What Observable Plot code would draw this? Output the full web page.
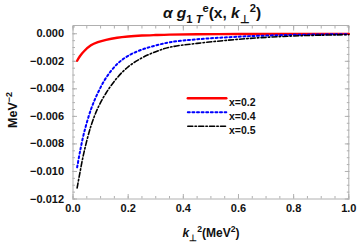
<!DOCTYPE html>
<html><head><meta charset="utf-8">
<script src="https://cdn.jsdelivr.net/npm/d3@7"></script>
<script src="https://cdn.jsdelivr.net/npm/@observablehq/plot@0.6"></script>
<style>body{margin:0;background:#fff} #chart{width:359px;height:243px}</style>
</head><body><div id="chart"></div>
<script>
// k_perp^2 sample positions (MeV^2)
const k2 = [0.015, 0.025, 0.04, 0.065, 0.09, 0.12, 0.16, 0.2, 0.25, 0.3, 0.35, 0.45, 0.6, 0.7, 0.8, 0.9, 1.0];
// alpha g1T^e (MeV^-2) for each x
const gX02 = [-0.00196, -0.00163, -0.00127, -0.00084, -0.00061, -0.00044, -0.00029, -0.0002, -0.00013, -0.00009, -0.00006, -0.00004, -0.00002, -0.00002, -0.00001, -0.00001, -0.00001];
const gX04 = [-0.0097, -0.0086, -0.0072, -0.0055, -0.0043, -0.0032, -0.0022, -0.0016, -0.00115, -0.00085, -0.00062, -0.0004, -0.00021, -0.00013, -0.00008, -0.00005, -0.00003];
const gX05 = [-0.0112, -0.0101, -0.0086, -0.0067, -0.0054, -0.0043, -0.0032, -0.0024, -0.00175, -0.0013, -0.00098, -0.0007, -0.0004, -0.00026, -0.00016, -0.0001, -0.00007];
const seriesNames = ["x=0.2", "x=0.4", "x=0.5"];
const xTicks = [0, 0.2, 0.4, 0.6, 0.8, 1.0];
const yTicks = [0, -0.002, -0.004, -0.006, -0.008, -0.010, -0.012];

const allSeries = [gX02, gX04, gX05];
const rows = [];
allSeries.forEach((vals, i) => vals.forEach((v, j) => rows.push({k: k2[j], g: v, s: seriesNames[i]})));

const colors = ["#ff0000", "#0000ff", "#000000"];
const dashes = [null, "2,2.6", "5,2.2,1.5,2.2"];
const widths = [2.4, 2, 1.6];

const xMinor = d3.range(0, 1.0001, 0.05).map(v => +v.toFixed(2));
const yMinor = d3.range(-0.012, 0.00051, 0.0005).map(v => +v.toFixed(4));

const font = "'Liberation Sans', Arial, sans-serif";
const tickColor = "#b0b0b0";
const seg = {draw(ctx, l) { ctx.moveTo(0, 0); ctx.lineTo(l, 0); }};

const marks = [
  Plot.frame({stroke: tickColor, strokeWidth: 1}),
  Plot.axisX(xMinor, {anchor: "bottom", tickSize: -2.5, text: null, stroke: tickColor, label: null}),
  Plot.axisX(xMinor, {anchor: "top", tickSize: -2.5, text: null, stroke: tickColor, label: null}),
  Plot.axisX(xTicks, {anchor: "bottom", tickSize: -4.5, text: null, stroke: tickColor, label: null}),
  Plot.axisX(xTicks, {anchor: "top", tickSize: -4.5, text: null, stroke: tickColor, label: null}),
  Plot.axisY(yMinor, {anchor: "left", tickSize: -2.5, text: null, stroke: tickColor, label: null}),
  Plot.axisY(yMinor, {anchor: "right", tickSize: -2.5, text: null, stroke: tickColor, label: null}),
  Plot.axisY(yTicks, {anchor: "left", tickSize: -4.5, text: null, stroke: tickColor, label: null}),
  Plot.axisY(yTicks, {anchor: "right", tickSize: -4.5, text: null, stroke: tickColor, label: null}),
  Plot.axisX(xTicks, {anchor: "bottom", tickSize: 0, tickPadding: 5, tickFormat: d3.format(".1f"), label: null, fill: "#111"}),
  Plot.axisY(yTicks, {anchor: "left", tickSize: 0, tickPadding: 9, tickFormat: d3.format(".3f"), label: null, fill: "#111"})
];
seriesNames.forEach((name, i) => {
  marks.push(Plot.line(rows.filter(r => r.s === name), {x: "k", y: "g", stroke: colors[i], strokeWidth: widths[i], strokeDasharray: dashes[i], curve: "catmull-rom"}));
});
// legend
seriesNames.forEach((name, i) => {
  marks.push(Plot.vector([name], {frameAnchor: "top-left", dx: 114.8, dy: 72.7 + 14 * i, length: 38.5, shape: seg, anchor: "start", stroke: colors[i], strokeWidth: widths[i], strokeDasharray: dashes[i]}));
  marks.push(Plot.text([name], {text: d => d, frameAnchor: "top-left", dx: 156, dy: 72.7 + 14 * i, textAnchor: "start", fontSize: 10.5, fontWeight: "bold", fill: "#111"}));
});

const chart = Plot.plot({
  width: 359, height: 243,
  marginLeft: 72.5, marginRight: 10.7, marginTop: 25, marginBottom: 44.5,
  x: {domain: [0, 1]},
  y: {domain: [-0.012, 0.0006]},
  style: {fontFamily: font, fontSize: "11px", fontWeight: "bold", color: "#111", background: "#fff"},
  marks
});
document.getElementById("chart").append(chart);

// rich text labels (title, axis labels)
const svg = d3.select(chart);
function rich(x, y, size, parts, rotate) {
  const t = svg.append("text")
    .attr("text-anchor", "middle")
    .attr("font-family", font).attr("font-weight", "bold")
    .attr("font-size", size).attr("fill", "#111")
    .attr("transform", `translate(${x},${y})` + (rotate ? ` rotate(${rotate})` : ""));
  let shift = 0;
  parts.forEach(p => {
    const target = p.sub ? size * 0.3 : p.sup ? -size * 0.4 : 0;
    const ts = t.append("tspan").text(p.t).attr("dy", target - shift);
    shift = target;
    if (p.sub || p.sup) ts.attr("font-size", size * 0.72);
    if (p.it) ts.attr("font-style", "italic");
  });
}
rich(212, 18, 15.5, [
  {t: "α g", it: true}, {t: "1 ", sub: true}, {t: "T", sub: true, it: true}, {t: "e", sup: true},
  {t: "(x, "}, {t: "k", it: true}, {t: "⊥", sub: true}, {t: "2", sup: true}, {t: ")"}
]);
rich(211, 237, 12, [
  {t: "k", it: true}, {t: "⊥", sub: true}, {t: "2", sup: true}, {t: "(MeV"}, {t: "2", sup: true}, {t: ")"}
]);
rich(17, 110, 12.5, [{t: "MeV"}, {t: "−2", sup: true}], -90);
</script>
</body></html>
